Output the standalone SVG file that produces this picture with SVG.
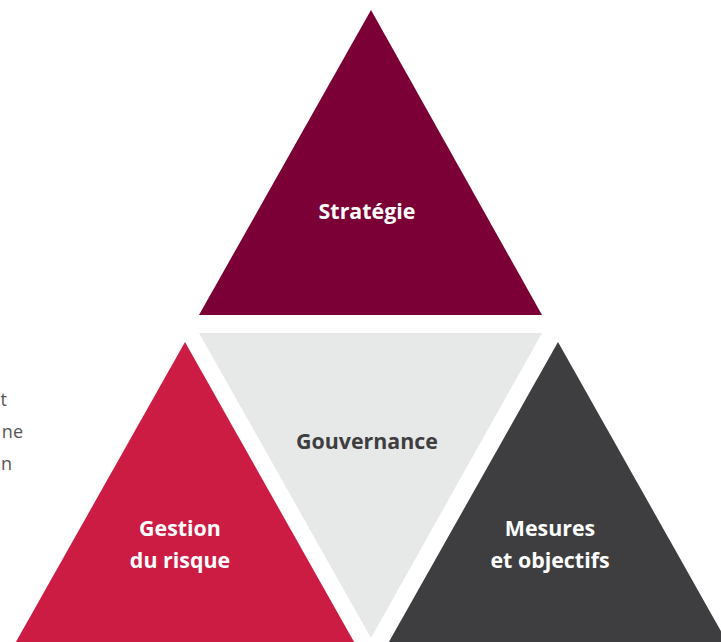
<svg xmlns="http://www.w3.org/2000/svg" width="721" height="642" viewBox="0 0 721 642">
<style>
.lbl{font-family:"Open Sans","Noto Sans","Liberation Sans",sans-serif;font-weight:bold;font-size:21.4px;text-anchor:middle}
.w{fill:#ffffff}
.d{fill:#3e3e40}
.side{font-family:"Open Sans","Noto Sans","Liberation Sans",sans-serif;font-size:18px;fill:#555555;text-anchor:end}
</style>
<rect width="721" height="642" fill="#ffffff"/>
<g id="side-text">
<text class="side" x="7" y="406">t</text>
<text class="side" x="23" y="438">ne</text>
<text class="side" x="12" y="470">n</text>
</g>
<g id="strategie">
<polygon points="371,10 199,315 542,315" fill="#7a0036"/>
<text class="lbl w" x="367" y="219">Stratégie</text>
</g>
<g id="gouvernance">
<polygon points="199,333 542,333 371,638" fill="#e7e9e8"/>
<text class="lbl d" x="367" y="449">Gouvernance</text>
</g>
<g id="gestion">
<polygon points="185,342 8,656 362,656" fill="#cc1c44"/>
<text class="lbl w" x="180" y="536">Gestion</text>
<text class="lbl w" x="180" y="568">du risque</text>
</g>
<g id="mesures">
<polygon points="558,342 381,656 735,656" fill="#3e3e40"/>
<text class="lbl w" x="550" y="536">Mesures</text>
<text class="lbl w" x="550" y="568">et objectifs</text>
</g>
<g id="connectors"></g>
</svg>
